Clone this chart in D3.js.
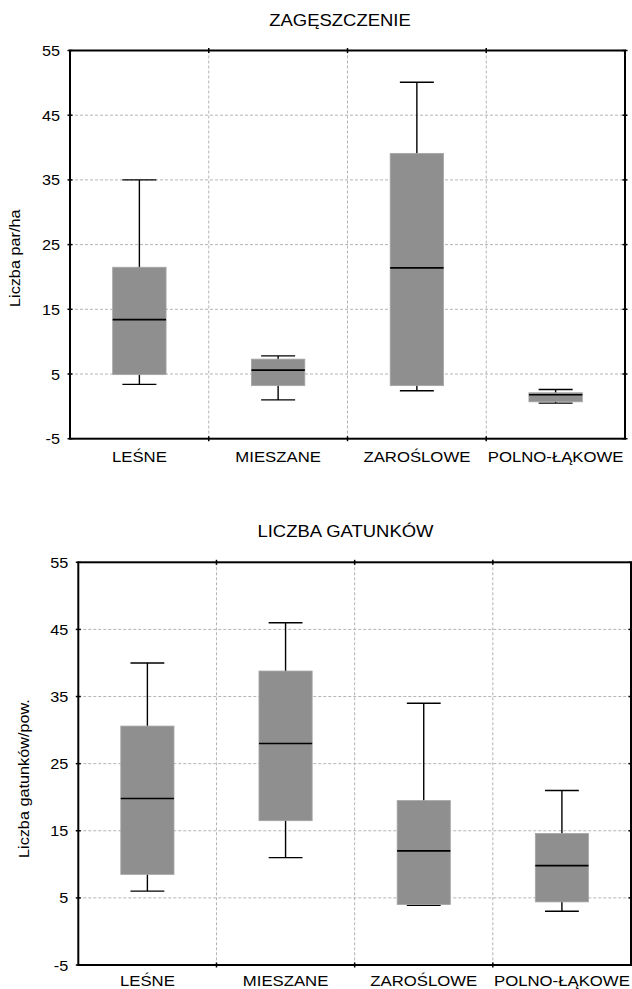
<!DOCTYPE html>
<html>
<head>
<meta charset="utf-8">
<script src="https://cdn.jsdelivr.net/npm/d3@7"></script>
<style>
  body { margin: 0; background: #fff; }
  svg { display: block; font-family: "Liberation Sans", Arial, sans-serif; }
</style>
</head>
<body>
<div id="chart"></div>
<script>
// data
const categories = ["LEŚNE", "MIESZANE", "ZAROŚLOWE", "POLNO-ŁĄKOWE"];
const yTicks = [-5, 5, 15, 25, 35, 45, 55];

const densMin = [3.4, 1.0, 2.4, 0.5];
const densQ1 = [4.9, 3.2, 3.2, 0.7];
const densMed = [13.4, 5.6, 21.4, 1.8];
const densQ3 = [21.5, 7.3, 39.1, 2.1];
const densMax = [35, 7.8, 50.1, 2.6];

const specMin = [6, 11, 3.9, 3];
const specQ1 = [8.5, 16.5, 4.0, 4.4];
const specMed = [19.8, 28, 12, 9.8];
const specQ3 = [30.6, 38.8, 19.5, 14.6];
const specMax = [40, 46, 34, 21];

const width = 632, height = 989;
const sx = 1.16; // horizontal stretch of the original lettering

let svg = d3.select("#chart").append("svg")
  .attr("width", width)
  .attr("height", height);

function boxes(mins, q1, med, q3, maxs){
  return categories.map((c, i) => ({cat: c, min: mins[i], q1: q1[i], med: med[i], q3: q3[i], max: maxs[i]}));
}

const panels = [
  {title: "ZAGĘSZCZENIE", ylabel: "Liczba par/ha", data: boxes(densMin, densQ1, densMed, densQ3, densMax),
   left: 70, right: 625, top: 50.5, bottom: 438.7, titleX: 340, titleY: 26, ylabelX: 20, ylabelY: 307, xlabOff: 23},
  {title: "LICZBA GATUNKÓW", ylabel: "Liczba gatunków/pow.", data: boxes(specMin, specQ1, specMed, specQ3, specMax),
   left: 78.3, right: 631, top: 562.3, bottom: 965, titleX: 345.5, titleY: 537, ylabelX: 28.5, ylabelY: 858, xlabOff: 20.5}
];

panels.forEach(p => {
  let x = d3.scaleBand().domain(categories).range([p.left, p.right]);
  let y = d3.scaleLinear().domain([-5, 55]).range([p.bottom, p.top]);
  let g = svg.append("g");

  /** GRID */
  g.append("g").selectAll("line")
    .data(yTicks.slice(1, -1)).enter()
    .append("line")
    .attr("x1", p.left).attr("x2", p.right)
    .attr("y1", d => y(d)).attr("y2", d => y(d))
    .attr("stroke", "#b4b4b4").attr("stroke-width", 1).attr("stroke-dasharray", "3,2");
  g.append("g").selectAll("line")
    .data(categories.slice(1)).enter()
    .append("line")
    .attr("x1", d => x(d)).attr("x2", d => x(d))
    .attr("y1", p.top).attr("y2", p.bottom)
    .attr("stroke", "#b4b4b4").attr("stroke-width", 1).attr("stroke-dasharray", "3,2");

  /** BOXES */
  let bw = x.bandwidth() * 0.385;
  let cw = x.bandwidth() * 0.245;
  let b = g.append("g").selectAll("g")
    .data(p.data).enter()
    .append("g")
    .attr("transform", d => `translate(${x(d.cat) + x.bandwidth() / 2},0)`);
  b.append("line")
    .attr("x1", 0).attr("x2", 0)
    .attr("y1", d => y(d.max)).attr("y2", d => y(d.min))
    .attr("stroke", "#000").attr("stroke-width", 1.4);
  b.append("line")
    .attr("x1", -cw / 2).attr("x2", cw / 2)
    .attr("y1", d => y(d.max)).attr("y2", d => y(d.max))
    .attr("stroke", "#000").attr("stroke-width", 1.4);
  b.append("line")
    .attr("x1", -cw / 2).attr("x2", cw / 2)
    .attr("y1", d => y(d.min)).attr("y2", d => y(d.min))
    .attr("stroke", "#000").attr("stroke-width", 1.4);
  b.append("rect")
    .attr("x", -bw / 2)
    .attr("width", bw)
    .attr("y", d => y(d.q3))
    .attr("height", d => y(d.q1) - y(d.q3))
    .attr("fill", "#8f8f8f")
    .attr("stroke", "#a6a6a6").attr("stroke-width", 0.8);
  b.append("line")
    .attr("x1", -bw / 2).attr("x2", bw / 2)
    .attr("y1", d => y(d.med)).attr("y2", d => y(d.med))
    .attr("stroke", "#000").attr("stroke-width", 1.6);

  /** FRAME + TICKS */
  g.append("rect")
    .attr("x", p.left).attr("y", p.top)
    .attr("width", p.right - p.left).attr("height", p.bottom - p.top)
    .attr("fill", "none").attr("stroke", "#000").attr("stroke-width", 2);
  yTicks.forEach(t => {
    [p.left, p.right].forEach(xx => g.append("line")
      .attr("x1", xx - 2.5).attr("x2", xx + 2.5)
      .attr("y1", y(t)).attr("y2", y(t))
      .attr("stroke", "#000").attr("stroke-width", 1.5));
  });
  categories.slice(1).forEach(c => {
    [p.top, p.bottom].forEach(yy => g.append("line")
      .attr("x1", x(c)).attr("x2", x(c))
      .attr("y1", yy - 2.5).attr("y2", yy + 2.5)
      .attr("stroke", "#000").attr("stroke-width", 1.5));
  });

  /** AXES */
  let ya = g.append("g")
    .attr("transform", `translate(${p.left},0)`)
    .call(d3.axisLeft(y).tickValues(yTicks).tickFormat(d => String(d)).tickSize(0).tickPadding(0));
  ya.select(".domain").remove();
  ya.selectAll("text")
    .attr("x", 0).attr("dy", "0.36em")
    .attr("font-size", 14).attr("font-family", "Liberation Sans, Arial, sans-serif").attr("fill", "#000")
    .attr("transform", `translate(-10,0) scale(${sx},1)`);

  let xa = g.append("g")
    .attr("transform", `translate(0,${p.bottom})`)
    .call(d3.axisBottom(x).tickSize(0).tickPadding(0));
  xa.select(".domain").remove();
  xa.selectAll("text")
    .attr("y", 0).attr("dy", 0)
    .attr("font-size", 15.5).attr("font-family", "Liberation Sans, Arial, sans-serif").attr("fill", "#000")
    .attr("transform", `translate(0,${p.xlabOff}) scale(1.08,1)`);

  /** TITLE + Y LABEL */
  g.append("text")
    .text(p.title)
    .attr("text-anchor", "middle")
    .attr("font-size", 16.5)
    .attr("transform", `translate(${p.titleX},${p.titleY}) scale(1.12,1)`);
  g.append("text")
    .text(p.ylabel)
    .attr("text-anchor", "start")
    .attr("font-size", 14)
    .attr("transform", `translate(${p.ylabelX},${p.ylabelY}) rotate(-90) scale(${sx},1)`);
});
</script>
</body>
</html>
